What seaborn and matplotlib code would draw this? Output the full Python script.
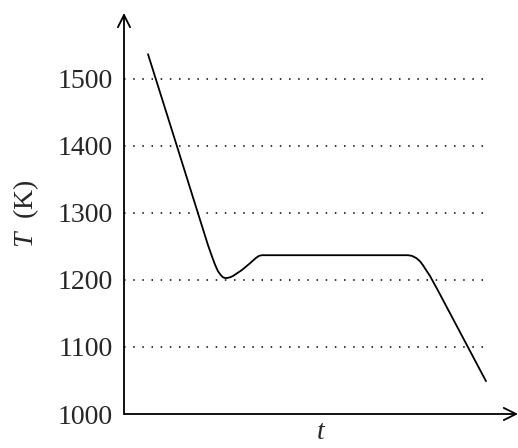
import matplotlib
matplotlib.use('Agg')
import matplotlib.pyplot as plt
import seaborn as sns
import pandas as pd

# cooling curve (time in arbitrary units, T in K)
t_vals = [24, 51, 76, 80, 84, 88, 91, 94, 97, 99, 101, 103, 106, 109, 113, 118, 122, 126,
          129, 132, 135, 138, 284, 288, 292, 296, 299, 302, 306, 310, 313, 362]
temp_vals = [1537, 1409, 1290, 1271, 1252, 1235, 1223, 1213, 1207, 1204, 1203, 1203, 1204,
             1206, 1210, 1215, 1220, 1225, 1229, 1233, 1236, 1237, 1237, 1236, 1233, 1228,
             1222, 1215, 1206, 1195, 1187, 1049]
yticks = [1000, 1100, 1200, 1300, 1400, 1500]
grid_levels = [1100, 1200, 1300, 1400, 1500]

sns.set_theme(style='white')
plt.rcParams['font.family'] = ['Liberation Serif', 'DejaVu Serif']
plt.rcParams['mathtext.fontset'] = 'custom'
plt.rcParams['mathtext.it'] = 'Liberation Serif:italic'
plt.rcParams['mathtext.rm'] = 'Liberation Serif'

df = pd.DataFrame({'t': t_vals, 'T': temp_vals})

fig = plt.figure(figsize=(5.18, 4.48), dpi=100)
ax = fig.add_axes([124/518, 34/448, 394/518, 401/448])

# dotted guide lines
ax.hlines(grid_levels, 0, 366, colors='black', lw=1.1, linestyles=[(0, (1, 5))])

sns.lineplot(data=df, x='t', y='T', color='black', lw=1.3, ax=ax)

ax.set_xlim(0, 394)
ax.set_ylim(1000, 1598.5)
ax.set_xticks([])
ax.set_yticks(yticks)
ax.tick_params(axis='y', length=0, pad=8, labelsize=20)
for s in ax.spines.values():
    s.set_visible(False)

# axes with open arrow heads
arrow = dict(arrowstyle='->', lw=1.3, color='black', mutation_scale=22, shrinkA=0, shrinkB=0)
ax.annotate('', xy=(1, 0), xytext=(0, 0), xycoords='axes fraction', arrowprops=arrow, annotation_clip=False)
ax.annotate('', xy=(0, 1), xytext=(0, 0), xycoords='axes fraction', arrowprops=arrow, annotation_clip=False)

ax.set_xlabel('$t$', fontsize=20, labelpad=4)
ax.set_ylabel('$T$  (K)', fontsize=20, labelpad=12)

fig.savefig('out.png', dpi=100)
